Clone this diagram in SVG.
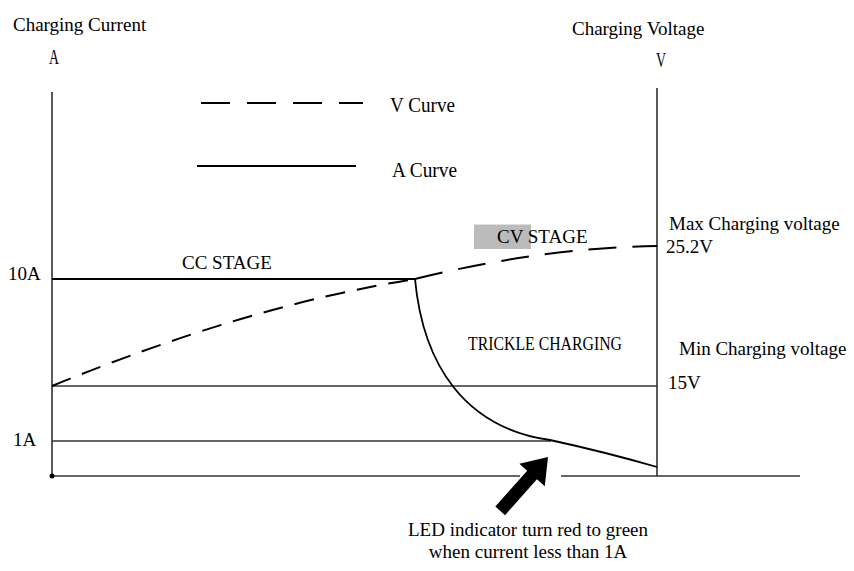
<svg xmlns="http://www.w3.org/2000/svg" width="854" height="571" viewBox="0 0 854 571">
<style>
.t{font-family:"Liberation Serif","Times New Roman",serif;font-size:19px;fill:#000}
.m{font-family:"Liberation Serif","Times New Roman",serif;font-size:20px;fill:#000}
.ax{stroke:#000;stroke-width:1.3;fill:none}
.grid{stroke:#333;stroke-width:1.3;fill:none}
.v{stroke:#000;stroke-width:2;fill:none}
.a{stroke:#000;stroke-width:1.8;fill:none}
</style>
<rect width="854" height="571" fill="#fff"/>
<g id="axes">
<line class="ax" x1="52" y1="92" x2="52" y2="476"/>
<line class="ax" x1="657" y1="88" x2="657" y2="476"/>
<line class="grid" x1="52" y1="476" x2="520" y2="476"/>
<line class="grid" x1="561" y1="476" x2="800" y2="476"/>
<circle cx="52" cy="476" r="2.5" fill="#000"/>
<line class="grid" x1="52" y1="386" x2="657" y2="386"/>
<line class="grid" x1="52" y1="441" x2="551" y2="441"/>
</g>
<g id="legend">
<line class="v" x1="201" y1="103" x2="363" y2="103" stroke-dasharray="29,17"/>
<text class="m" x="390" y="112" textLength="65" lengthAdjust="spacingAndGlyphs">V Curve</text>
<line class="a" x1="197" y1="166" x2="356" y2="166"/>
<text class="m" x="392" y="177" textLength="65" lengthAdjust="spacingAndGlyphs">A Curve</text>
</g>
<g id="curves">
<line class="a" x1="52" y1="279" x2="415" y2="279" stroke-width="2"/>
<path class="v" d="M52,386 Q250,305 415,279" stroke-dasharray="20,12"/>
<path class="v" d="M415,279 Q540,248 657,246" stroke-dasharray="28,16"/>
<path class="a" d="M415,279 C423,365 465,428 550,440 Q605,452 657,467"/>
</g>
<g id="labels">
<text class="t" x="13" y="31">Charging Current</text>
<text class="m" x="49" y="64" font-size="16" textLength="10" lengthAdjust="spacingAndGlyphs">A</text>
<text class="t" x="572" y="35">Charging Voltage</text>
<text class="m" x="656" y="67" font-size="16" textLength="10" lengthAdjust="spacingAndGlyphs">V</text>
<text class="t" x="8" y="280" font-size="18">10A</text>
<text class="t" x="13" y="446" font-size="18">1A</text>
<text class="t" x="182" y="269">CC STAGE</text>
<rect x="474" y="224" width="57" height="25" fill="#b4b4b4" opacity="0.9"/>
<line x1="474" y1="224.5" x2="531" y2="224.5" stroke="#e0e0e0" stroke-width="1"/>
<text class="t" x="497" y="243">CV STAGE</text>
<text class="t" x="468" y="350" font-size="15" textLength="154" lengthAdjust="spacingAndGlyphs">TRICKLE CHARGING</text>
<text class="t" x="669" y="230">Max Charging voltage</text>
<text class="t" x="666" y="253">25.2V</text>
<text class="t" x="679" y="355">Min Charging voltage</text>
<text class="t" x="668" y="389">15V</text>
<text class="t" x="528" y="536" text-anchor="middle">LED indicator turn red to green</text>
<text class="t" x="528" y="558" text-anchor="middle">when current less than 1A</text>
</g>
<g id="arrow">
<polygon points="0,0 -24,-17 -24,-6.5 -72,-6.5 -72,6.5 -24,6.5 -24,17" fill="#000" transform="translate(548,457) rotate(-48.4)"/>
</g>
</svg>
